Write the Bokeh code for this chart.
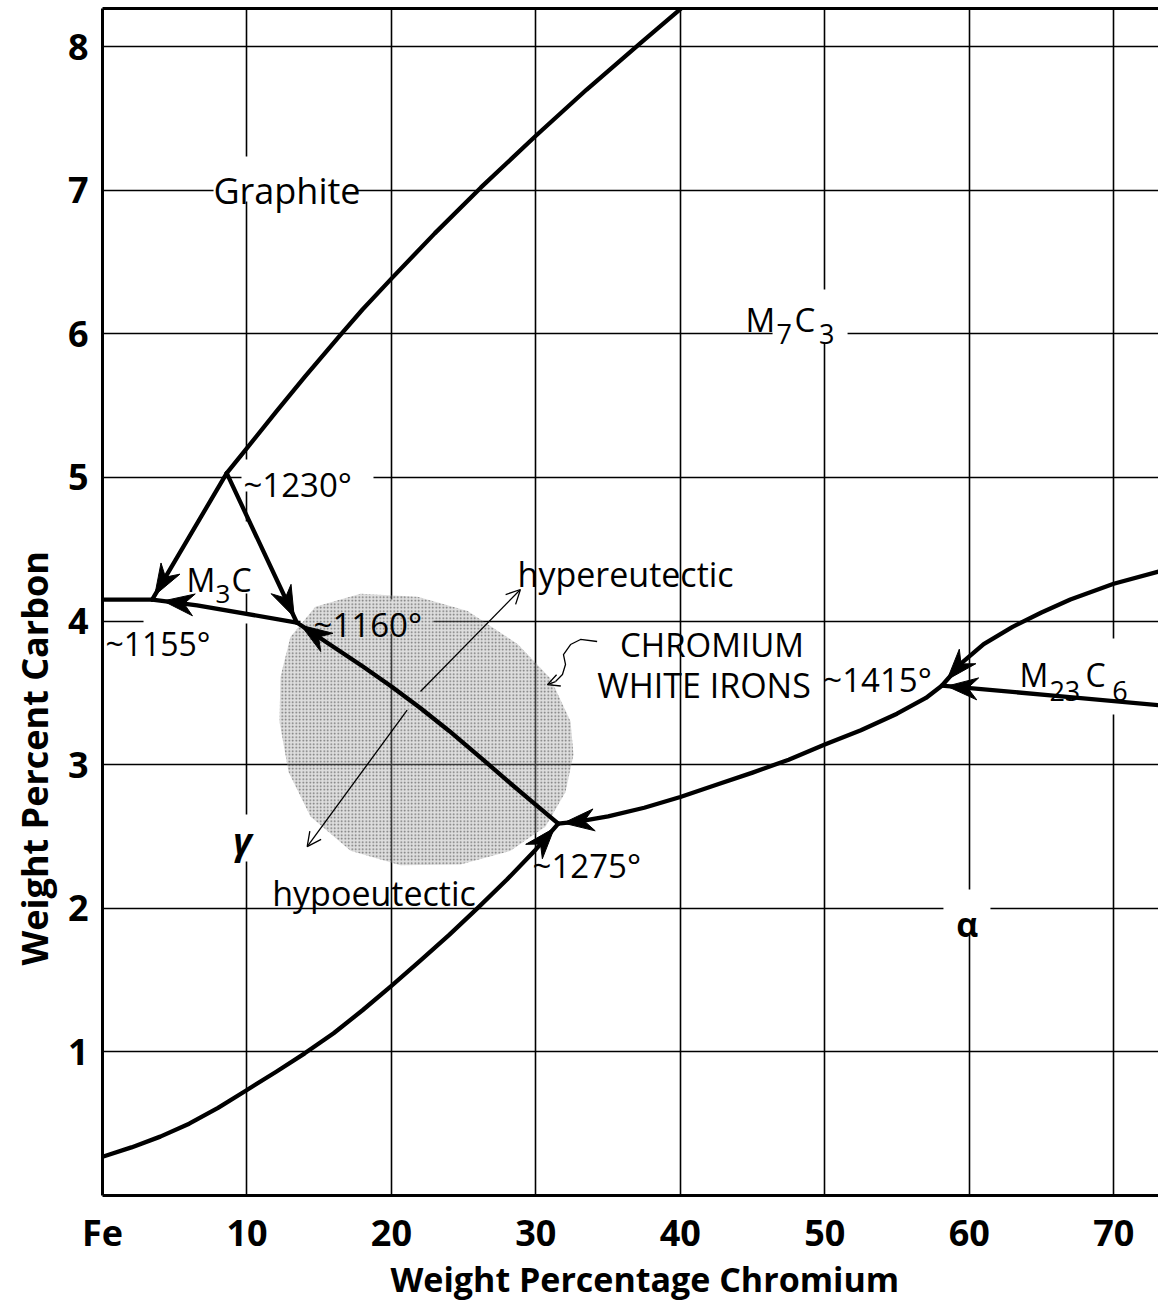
import math
from bokeh.plotting import figure
from bokeh.models import FixedTicker, LinearAxis, Arrow, OpenHead, Title
from bokeh.core.properties import value
from bokeh.embed import file_html
from bokeh.resources import INLINE

FONT = "Open Sans"

# ---- liquidus surface of the Fe-Cr-C system (wt% Cr, wt% C) ----
# graphite / M7C3 boundary rising from the ~1230 deg point
graphite_cr = [8.6, 10.0, 12.0, 14.0, 16.4, 18.0, 20.0, 23.0, 26.2, 30.0, 33.5, 37.3, 40.1]
graphite_c = [5.03, 5.205, 5.455, 5.70, 5.985, 6.17, 6.385, 6.70, 7.02, 7.38, 7.70, 8.03, 8.27]

# austenite (gamma) boundary from pure Fe up to the ~1275 deg point
gamma_cr = [0, 2, 4, 6, 8, 10, 12, 14, 16, 18, 20, 22, 24, 26, 28, 30, 31.55]
gamma_c = [0.27, 0.335, 0.41, 0.50, 0.61, 0.735, 0.86, 0.99, 1.13, 1.29, 1.46, 1.635,
           1.815, 2.005, 2.20, 2.41, 2.59]

# eutectic trough gamma + M7C3, from ~1160 deg down to ~1275 deg
trough_cr = [13.45, 16.0, 18.0, 20.0, 22.0, 24.0, 26.4, 28.0, 30.0, 31.55]
trough_c = [3.99, 3.82, 3.685, 3.545, 3.395, 3.235, 3.03, 2.89, 2.72, 2.59]

# alpha boundary from ~1275 deg up to ~1415 deg
alpha_cr = [31.55, 33.0, 35.0, 37.5, 40.0, 42.5, 45.0, 47.5, 50.0, 52.5, 55.0, 57.0, 58.1]
alpha_c = [2.59, 2.605, 2.64, 2.70, 2.775, 2.86, 2.945, 3.035, 3.14, 3.24, 3.355, 3.465, 3.55]

# alpha / M23C6 boundary beyond ~1415 deg
upper_cr = [58.1, 59.5, 61.0, 63.0, 65.0, 67.0, 70.0, 73.1]
upper_c = [3.55, 3.71, 3.84, 3.96, 4.06, 4.15, 4.26, 4.345]

# M7C3 / M23C6 boundary running into ~1415 deg
m23_cr = [58.1, 66.0, 73.1]
m23_c = [3.55, 3.48, 3.415]

# M3C field: Fe side of the trough and the two legs from ~1230 deg
fe_side_cr = [0.0, 3.44]
fe_side_c = [4.15, 4.15]
m3c_trough_cr = [3.44, 6.55, 13.45]
m3c_trough_c = [4.15, 4.11, 3.99]
leg_1155_cr = [8.6, 3.44]
leg_1155_c = [5.03, 4.15]
leg_1160_cr = [8.6, 13.45]
leg_1160_c = [5.03, 3.99]

# composition range of chromium white irons
irons_cr = [17.86, 21.81, 25.27, 28.73, 31.01, 32.40, 32.60, 32.05, 30.67, 28.24, 24.78,
            20.63, 17.17, 14.40, 12.88, 12.25, 12.32, 13.01, 14.74]
irons_c = [4.19, 4.17, 4.07, 3.84, 3.60, 3.30, 3.07, 2.81, 2.57, 2.40, 2.305,
           2.30, 2.40, 2.64, 2.95, 3.30, 3.61, 3.89, 4.10]

# hypo / hyper-eutectic direction arrow (two halves, split at the trough)
hypo_cr = [21.09, 14.17]
hypo_c = [3.38, 2.43]
hyper_cr = [22.01, 28.93]
hyper_c = [3.51, 4.22]

# wavy pointer from the white-iron caption to the shaded field
wave_cr = [34.24, 33.09, 32.40, 31.91, 32.05, 31.84, 31.36, 30.80]
wave_c = [3.858, 3.872, 3.837, 3.767, 3.698, 3.628, 3.579, 3.558]

x_ticks = [0, 10, 20, 30, 40, 50, 60, 70]
x_labels = {0: "Fe"}
y_ticks = [1, 2, 3, 4, 5, 6, 7, 8]

X_END, Y_END = 73.1, 8.266
FRAME_W, FRAME_H = 1056, 1187
SX, SY = FRAME_W / X_END, FRAME_H / Y_END

p = figure(width=1158, height=1310, x_range=(0, X_END), y_range=(0, Y_END),
           output_backend="svg", toolbar_location=None,
           min_border_left=102, min_border_right=0, min_border_top=8, min_border_bottom=115)
p.outline_line_color = None
p.background_fill_color = "white"
p.border_fill_color = "white"

for ax in (p.xaxis[0], p.yaxis[0]):
    ax.axis_line_width = 3
    ax.axis_line_color = "black"
    ax.major_tick_line_color = None
    ax.minor_tick_line_color = None
    ax.major_tick_out = 0
    ax.major_tick_in = 0
    ax.minor_tick_out = 0
    ax.major_label_text_font = FONT
    ax.major_label_text_font_size = "36px"
    ax.major_label_text_font_style = "bold"
    ax.major_label_text_color = "black"
p.xaxis.ticker = FixedTicker(ticks=x_ticks)
p.xaxis.major_label_overrides = x_labels
p.xaxis.major_label_standoff = 12
p.yaxis.ticker = FixedTicker(ticks=y_ticks)
p.yaxis.major_label_standoff = 14

p.add_layout(Title(text="Weight Percent Carbon", align="left", offset=230,
                   text_font=FONT, text_font_size="36px", text_font_style="bold",
                   text_color="black", standoff=12), "left")
p.add_layout(Title(text="Weight Percentage Chromium", align="left", offset=288,
                   text_font=FONT, text_font_size="34px", text_font_style="bold",
                   text_color="black", standoff=-12), "below")

top = LinearAxis(ticker=FixedTicker(ticks=[]), axis_line_width=3, axis_line_color="black",
                 major_tick_line_color=None, minor_tick_line_color=None,
                 major_tick_out=0, major_tick_in=0,
                 major_label_text_font_size="0px", major_label_standoff=0)
p.add_layout(top, "above")

p.xgrid.ticker = FixedTicker(ticks=x_ticks[1:])
p.ygrid.ticker = FixedTicker(ticks=y_ticks)
for g in (p.xgrid[0], p.ygrid[0]):
    g.grid_line_color = "black"
    g.grid_line_width = 1.6

# white masks that break the grid around the lettering
mask_x = [12.67, 14.19, 8.27, 8.17, 18.31, 48.98, 67.25, 9.69, 59.84]
mask_y = [7.079, 5.014, 4.443, 4.018, 4.032, 6.121, 3.614, 2.49, 1.974]
mask_w = [144, 132, 73, 154, 133, 75, 113, 28, 47]
mask_h = [45, 32, 72, 10, 34, 54, 76, 47, 45]
p.rect(x=mask_x, y=mask_y, width=mask_w, height=mask_h, width_units="screen",
       height_units="screen", fill_color="white", line_color=None)

# shaded white-iron field
p.patch(irons_cr, irons_c, fill_color="#a8a8a8", fill_alpha=0.38, line_color=None,
        hatch_pattern="dot", hatch_color="black", hatch_alpha=0.5, hatch_scale=3.5,
        hatch_weight=1)


def put(x, y, s, size, align="left", baseline="alphabetic", style="normal"):
    p.text(x=[x], y=[y], text=[s], text_font=value(FONT), text_font_size=f"{size}px",
           text_align=align, text_baseline=baseline, text_font_style=style,
           text_color="black")


put(7.68, 7.0, "Graphite", 36)
put(9.76, 4.95, "~1230°", 33)
put(0.2, 3.844, "~1155°", 32)
put(14.61, 3.976, "~1160°", 33)
put(28.73, 4.331, "hypereutectic", 34)
put(42.19, 3.837, "CHROMIUM", 33, align="center")
put(41.64, 3.558, "WHITE IRONS", 34, align="center")
put(49.9, 3.593, "~1415°", 33)
put(11.75, 2.11, "hypoeutectic", 34)
put(29.77, 2.298, "~1275°", 33)
put(9.69, 2.47, "γ", 36, align="center", style="bold italic")
put(59.86, 1.894, "α", 34, align="center", style="bold")

# carbide formulas with lowered subscripts
put(5.81, 4.29, "M", 32)
put(7.82, 4.192, "3", 26)
put(8.93, 4.29, "C", 32)

put(44.51, 6.10, "M", 33)
put(46.66, 5.996, "7", 27)
put(47.90, 6.10, "C", 33)
put(49.60, 5.996, "3", 27)

put(63.48, 3.628, "M", 32)
put(65.55, 3.51, "23", 27)
put(68.05, 3.628, "C", 32)
put(69.90, 3.51, "6", 27)

# liquidus valleys
LW = 4.3
for xs, ys in [(graphite_cr, graphite_c), (gamma_cr, gamma_c), (trough_cr, trough_c),
               (alpha_cr, alpha_c), (upper_cr, upper_c), (m23_cr, m23_c),
               (fe_side_cr, fe_side_c), (m3c_trough_cr, m3c_trough_c),
               (leg_1155_cr, leg_1155_c), (leg_1160_cr, leg_1160_c)]:
    p.line(xs, ys, line_color="black", line_width=LW, line_join="round", line_cap="round")


def along(xs, ys, dist):
    """Point reached after walking `dist` screen pixels from the first vertex."""
    rem = dist
    for i in range(len(xs) - 1):
        dx = (xs[i + 1] - xs[i]) * SX
        dy = (ys[i + 1] - ys[i]) * SY
        seg = math.hypot(dx, dy)
        if seg >= rem:
            t = rem / seg
            return xs[i] + t * (xs[i + 1] - xs[i]), ys[i] + t * (ys[i + 1] - ys[i])
        rem -= seg
    return xs[-1], ys[-1]


def barb(xs, ys, dist, length=31, half=11, notch=0.68):
    """Barbed arrowhead whose tip sits `dist` px along the curve, pointing back to its start."""
    tx, ty = along(xs, ys, dist)
    bx, by = along(xs, ys, dist + 10)
    ux, uy = (tx - bx) * SX, (ty - by) * SY
    n = math.hypot(ux, uy)
    ux, uy = ux / n, uy / n
    nx, ny = -uy, ux
    offs = [(0, 0),
            (-length * ux + half * nx, -length * uy + half * ny),
            (-notch * length * ux, -notch * length * uy),
            (-length * ux - half * nx, -length * uy - half * ny)]
    return [tx + ox / SX for ox, oy in offs], [ty + oy / SY for ox, oy in offs]


def rev(a):
    return list(reversed(a))


# falling-temperature arrowheads, each pointing into its invariant point
heads = [
    (rev(leg_1155_cr), rev(leg_1155_c), 5),
    (rev(leg_1160_cr), rev(leg_1160_c), 6),
    (m3c_trough_cr, m3c_trough_c, 11),
    (trough_cr, trough_c, 5),
    (rev(gamma_cr), rev(gamma_c), 6),
    (alpha_cr, alpha_c, 5),
    (upper_cr, upper_c, 8),
    (m23_cr, m23_c, 5),
]
head_xs, head_ys = [], []
for xs, ys, d in heads:
    hx, hy = barb(xs, ys, d)
    head_xs.append(hx)
    head_ys.append(hy)
p.patches(head_xs, head_ys, fill_color="black", line_color="black", line_width=1,
          line_join="round")

# thin double-headed hypo / hyper arrow
for xs, ys in [(hypo_cr, hypo_c), (hyper_cr, hyper_c)]:
    p.add_layout(Arrow(x_start=xs[0], y_start=ys[0], x_end=xs[1], y_end=ys[1],
                       line_width=1.3, line_color="black",
                       end=OpenHead(size=14, line_width=1.3, line_color="black")))

# wavy pointer
p.line(wave_cr[:-1], wave_c[:-1], line_width=1.3, line_color="black", line_join="round")
p.add_layout(Arrow(x_start=wave_cr[-2], y_start=wave_c[-2], x_end=wave_cr[-1],
                   y_end=wave_c[-1], line_width=1.3, line_color="black",
                   end=OpenHead(size=12, line_width=1.3, line_color="black")))

open("out.html", "w").write(file_html(p, INLINE))
